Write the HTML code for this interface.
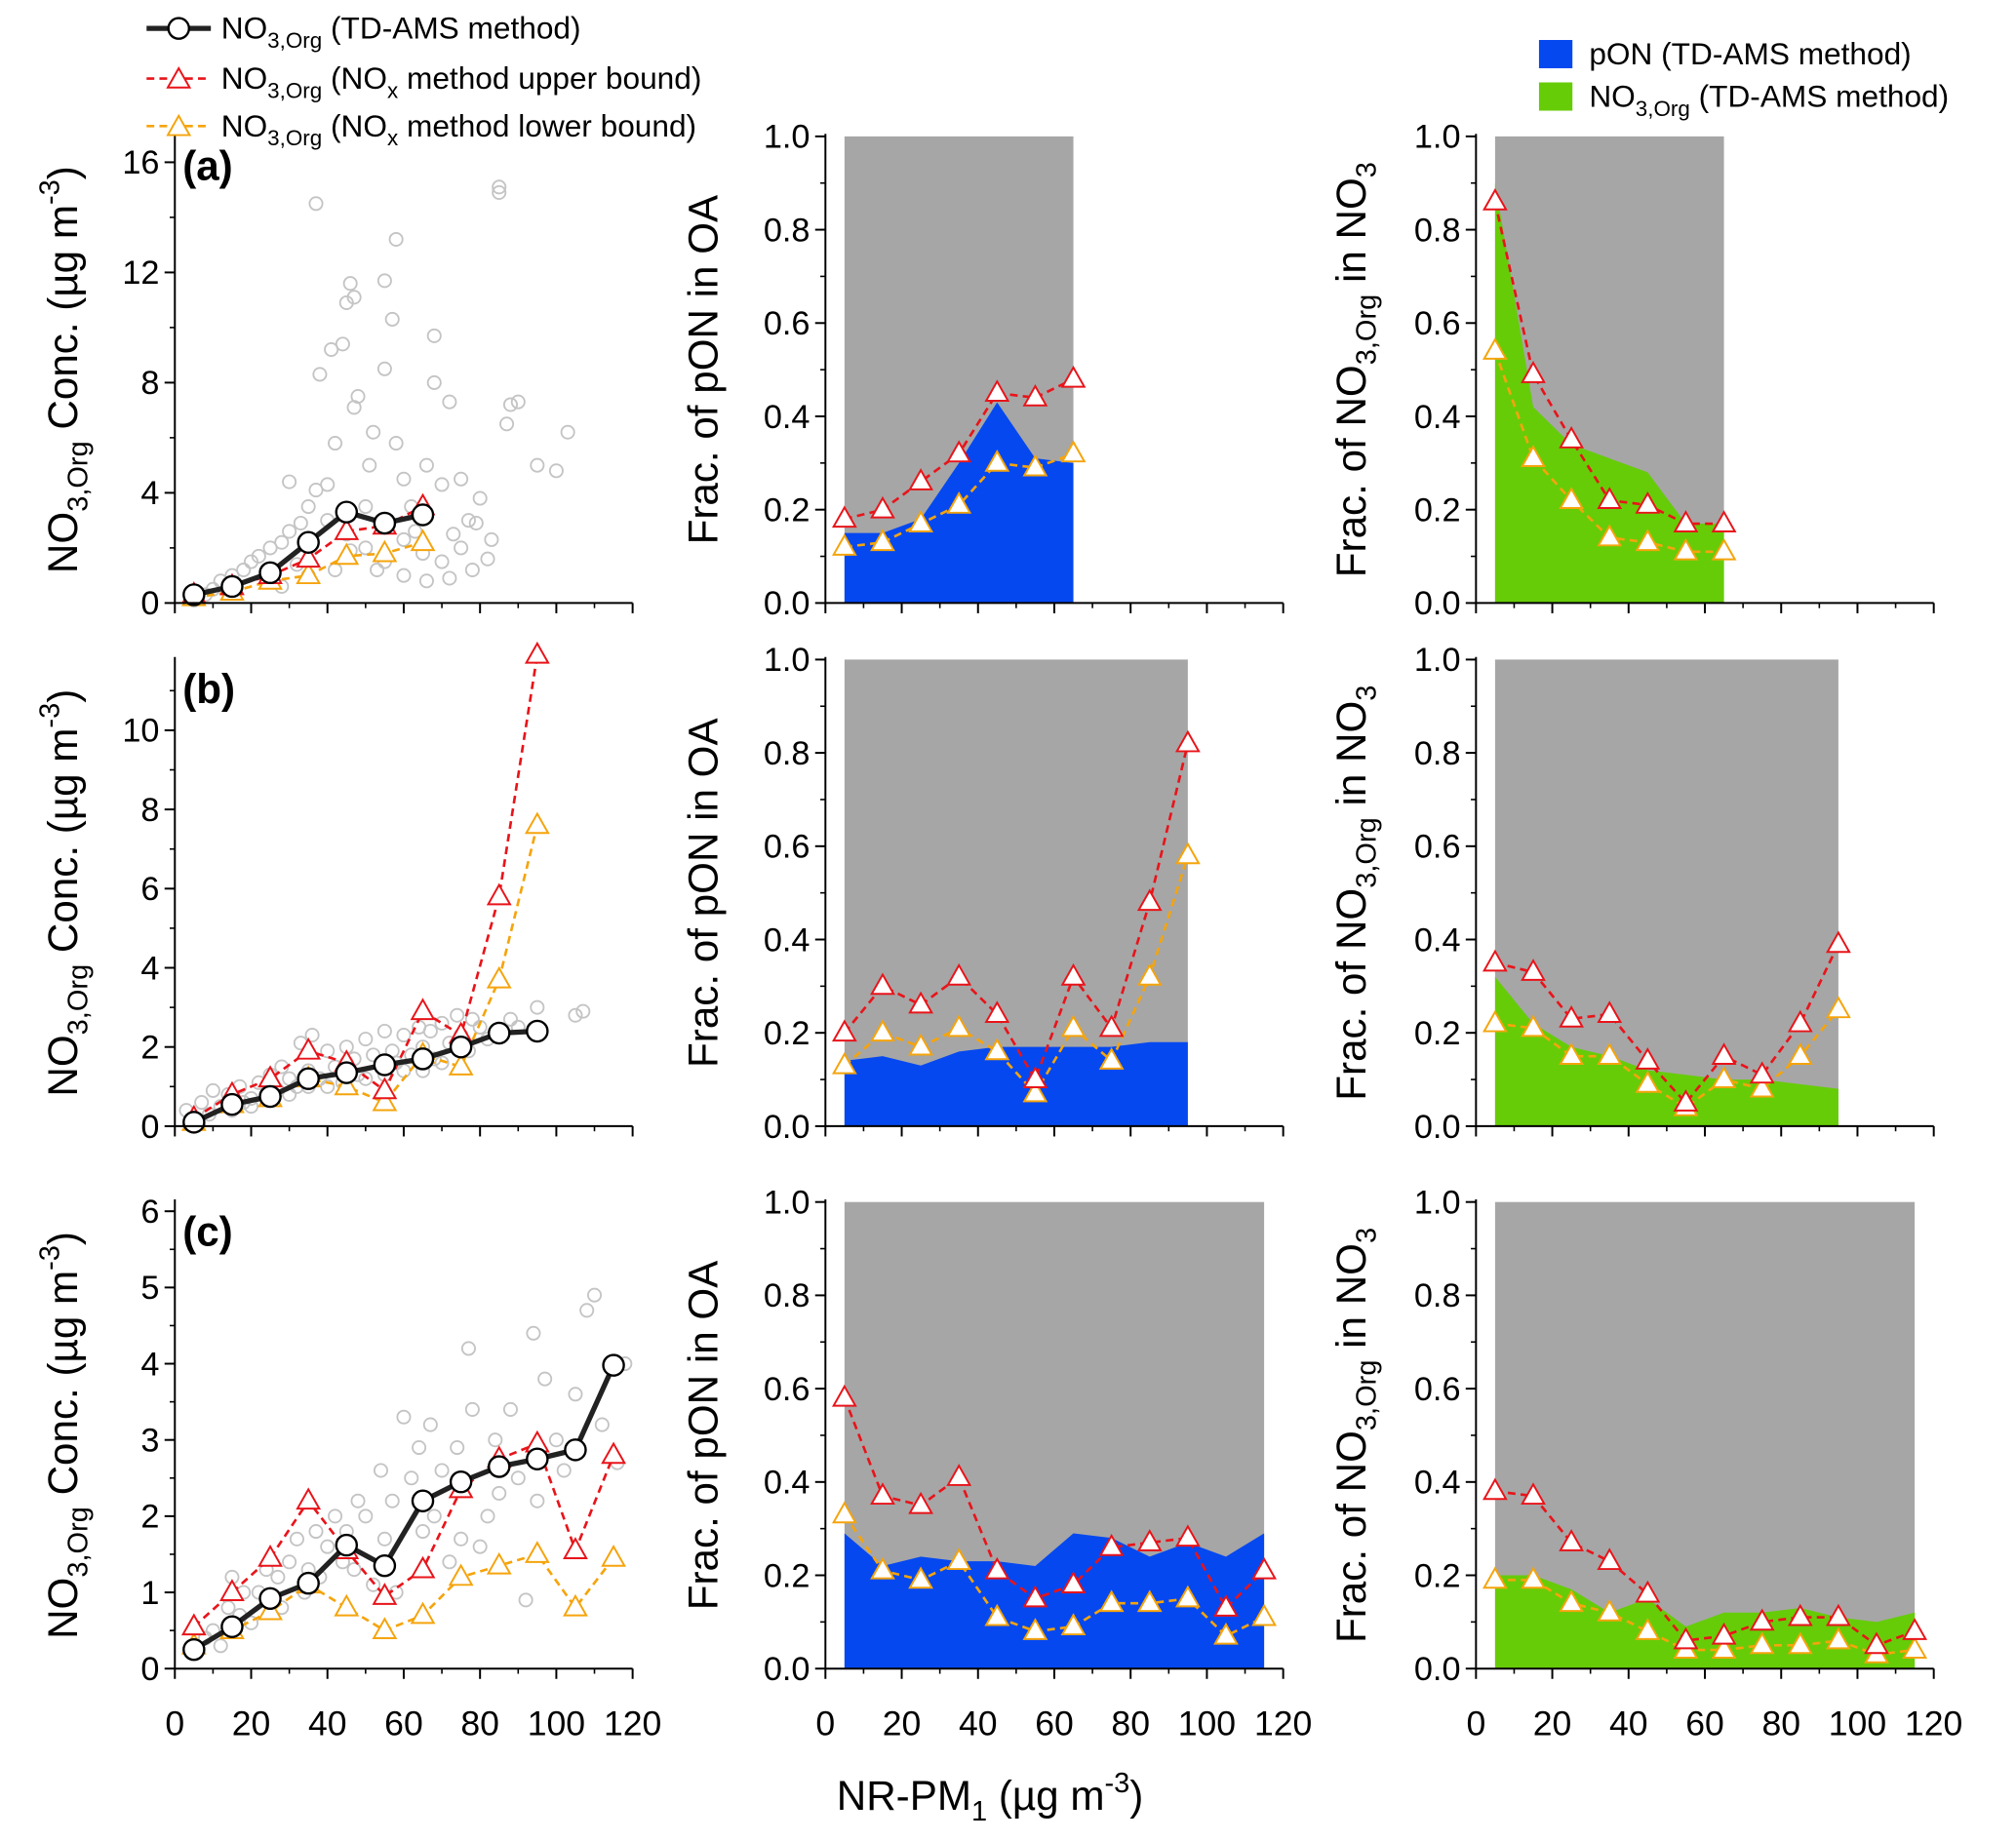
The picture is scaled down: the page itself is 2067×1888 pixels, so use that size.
<!DOCTYPE html>
<html><head><meta charset="utf-8"><style>
html,body{margin:0;padding:0;background:#fff;}
svg{display:block;font-family:"Liberation Sans",sans-serif;}
</style></head><body>
<svg id="chart" width="2067" height="1888" viewBox="0 0 1568 1432" xmlns="http://www.w3.org/2000/svg"></svg>
<script>
// ---------- data ----------
const binsA=[5,15,25,35,45,55,65];
const binsB=[5,15,25,35,45,55,65,75,85,95];
const binsC=[5,15,25,35,45,55,65,75,85,95,105,115];
const concTD_A=[0.3,0.6,1.1,2.2,3.3,2.9,3.2];
const concUp_A=[0.3,0.6,1.0,1.6,2.6,2.8,3.5];
const concLo_A=[0.2,0.4,0.8,1.0,1.7,1.8,2.2];
const concTD_B=[0.1,0.55,0.75,1.2,1.35,1.55,1.7,2.0,2.35,2.4];
const concUp_B=[0.2,0.8,1.2,1.9,1.6,0.9,2.9,2.3,5.8,11.9];
const concLo_B=[0.1,0.55,0.7,1.2,1.0,0.6,1.8,1.5,3.7,7.6];
const concTD_C=[0.25,0.55,0.92,1.12,1.62,1.35,2.2,2.45,2.65,2.75,2.87,3.98];
const concUp_C=[0.55,1.0,1.45,2.2,1.55,0.95,1.3,2.35,2.75,2.95,1.55,2.8];
const concLo_C=[0.3,0.5,0.75,1.1,0.8,0.5,0.7,1.2,1.35,1.5,0.8,1.45];
const oaUp_A=[0.18,0.20,0.26,0.32,0.45,0.44,0.48];
const oaLo_A=[0.12,0.13,0.17,0.21,0.30,0.29,0.32];
const oaPON_A=[0.15,0.15,0.18,0.30,0.43,0.31,0.30];
const oaUp_B=[0.20,0.30,0.26,0.32,0.24,0.10,0.32,0.21,0.48,0.82];
const oaLo_B=[0.13,0.20,0.17,0.21,0.16,0.07,0.21,0.14,0.32,0.58];
const oaPON_B=[0.14,0.15,0.13,0.16,0.17,0.17,0.17,0.17,0.18,0.18];
const oaUp_C=[0.58,0.37,0.35,0.41,0.21,0.15,0.18,0.26,0.27,0.28,0.13,0.21];
const oaLo_C=[0.33,0.21,0.19,0.23,0.11,0.08,0.09,0.14,0.14,0.15,0.07,0.11];
const oaPON_C=[0.29,0.22,0.24,0.23,0.23,0.22,0.29,0.28,0.24,0.27,0.24,0.29];
const no3Up_A=[0.86,0.49,0.35,0.22,0.21,0.17,0.17];
const no3Lo_A=[0.54,0.31,0.22,0.14,0.13,0.11,0.11];
const no3Org_A=[0.90,0.42,0.34,0.31,0.28,0.17,0.17];
const no3Up_B=[0.35,0.33,0.23,0.24,0.14,0.05,0.15,0.11,0.22,0.39];
const no3Lo_B=[0.22,0.21,0.15,0.15,0.09,0.04,0.10,0.08,0.15,0.25];
const no3Org_B=[0.32,0.22,0.17,0.15,0.12,0.11,0.10,0.10,0.09,0.08];
const no3Up_C=[0.38,0.37,0.27,0.23,0.16,0.06,0.07,0.10,0.11,0.11,0.05,0.08];
const no3Lo_C=[0.19,0.19,0.14,0.12,0.08,0.04,0.04,0.05,0.05,0.06,0.03,0.04];
const no3Org_C=[0.20,0.20,0.17,0.12,0.15,0.09,0.12,0.12,0.13,0.11,0.10,0.12];
const scatA_x=[37,41,45,46,47,44,55,58,57,85,85,38,68,68,72,87,88,90,103,100,95,52,55,48,47,42,30,37,40,51,58,60,66,70,75,80,77,73,62,35,30,25,20,15,10,8,12,18,22,28,33,40,45,50,55,60,65,70,75,83,82,78,72,66,42,35,28,50,55,60,5,14,24,32,46,53,63,79];
const scatA_y=[14.5,9.2,10.9,11.6,11.1,9.4,11.7,13.2,10.3,15.1,14.9,8.3,9.7,8.0,7.3,6.5,7.2,7.3,6.2,4.8,5.0,6.2,8.5,7.5,7.1,5.8,4.4,4.1,4.3,5.0,5.8,4.5,5.0,4.3,4.5,3.8,3.0,2.5,3.5,3.5,2.6,2.0,1.5,1.0,0.5,0.3,0.8,1.2,1.7,2.2,2.9,3.0,2.5,2.0,1.5,1.0,1.8,1.5,2.0,2.3,1.6,1.2,0.9,0.8,1.2,1.0,0.6,3.5,2.8,2.3,0.1,0.4,0.9,1.4,1.9,1.2,2.6,2.9];
const scatB_x=[3,5,7,9,10,12,14,15,17,18,20,22,24,25,27,28,30,32,33,35,36,38,40,42,44,45,47,48,50,52,54,55,57,58,60,62,64,65,67,68,70,72,74,75,77,78,80,82,85,88,90,95,105,107,20,30,40,50,60,70,35,45,55,65];
const scatB_y=[0.4,0.2,0.6,0.3,0.9,0.5,0.8,0.4,1.0,0.6,0.7,1.1,0.8,1.3,0.9,1.5,1.2,1.0,2.1,1.4,2.3,1.2,1.9,1.5,1.1,2.0,1.7,1.3,2.2,1.8,1.5,2.4,1.9,1.6,2.3,1.8,2.5,2.0,2.4,1.7,2.6,2.1,2.8,2.3,1.9,2.7,2.5,2.2,2.4,2.7,2.5,3.0,2.8,2.9,0.5,0.8,1.0,1.2,1.4,1.6,1.0,1.6,1.3,1.4];
const scatC_x=[5,8,10,12,14,15,17,18,20,22,24,25,27,28,30,32,34,35,37,38,40,42,44,45,47,48,50,52,54,55,57,58,60,62,64,65,67,68,70,72,74,75,77,78,80,82,84,85,88,90,92,94,95,97,100,102,105,108,110,112,114,116,118];
const scatC_y=[0.2,0.4,0.5,0.3,0.8,1.2,0.7,1.0,0.6,1.0,1.3,0.9,1.2,0.8,1.4,1.7,1.0,1.3,1.8,1.2,1.6,2.0,1.4,1.8,1.3,2.2,2.0,1.1,2.6,1.7,2.2,1.0,3.3,2.5,2.9,1.8,3.2,2.0,2.6,1.4,2.9,1.7,4.2,3.4,1.6,2.0,3.0,2.3,3.4,2.5,0.9,4.4,2.2,3.8,3.0,2.6,3.6,4.7,4.9,3.2,4.0,2.7,4.0];
const xTicks=[0,20,40,60,80,100,120];
const yTicksA=[0,4,8,12,16];
const yTicksB=[0,2,4,6,8,10];
const yTicksC=[0,1,2,3,4,5,6];
const fracTicks=[0,0.2,0.4,0.6,0.8,1.0];
const fracLabels=["0.0","0.2","0.4","0.6","0.8","1.0"];

// ---------- layout ----------
const NS="http://www.w3.org/2000/svg";
const svg=document.getElementById('chart');
const colX0=[136,642,1148], unitX=2.967;
const rowY0=[469,876,1298], rowTop=[106,513,935];
const col1Scale=[21.43,30.8,59.3];
function xs(c,v){return colX0[c]+v*unitX;}
function ys(r,c,v){return c===0? rowY0[r]-v*col1Scale[r] : rowY0[r]-v*(rowY0[r]-rowTop[r]);}
function mk(tag,attrs,parent){const e=document.createElementNS(NS,tag);for(const k in attrs)e.setAttribute(k,attrs[k]);(parent||svg).appendChild(e);return e;}
function text(x,y,str,size,anchor,parent,extra){const t=mk('text',Object.assign({x:x,y:y,'font-size':size,'text-anchor':anchor||'middle',fill:'#000'},extra||{}),parent);t.innerHTML=str;return t;}

function drawAxes(r,c,yTicks,yLabels,minorStep,yMax){
  const g=mk('g',{});
  
  
  const x0=colX0[c], y0=rowY0[r], top=rowTop[r], xEnd=xs(c,120);
  mk('line',{x1:x0,y1:top-2,x2:x0,y2:y0,stroke:'#000','stroke-width':1.5},g);
  mk('line',{x1:x0,y1:y0,x2:xEnd,y2:y0,stroke:'#000','stroke-width':1.5},g);
  yTicks.forEach((v,i)=>{const y=ys(r,c,v);mk('line',{x1:x0-8,y1:y,x2:x0,y2:y,stroke:'#000','stroke-width':1.5},g);
    text(x0-12,y+9,yLabels[i],26,'end',g);});
  for(let v=0;v<=yMax+1e-9;v+=minorStep){const y=ys(r,c,v);mk('line',{x1:x0-4,y1:y,x2:x0,y2:y,stroke:'#000','stroke-width':1.2},g);}
  xTicks.forEach(v=>{const x=xs(c,v);mk('line',{x1:x,y1:y0,x2:x,y2:y0+8,stroke:'#000','stroke-width':1.5},g);
    if(r===2) text(x,y0+52,String(v),27,'middle',g);});
  for(let v=10;v<=120;v+=20){const x=xs(c,v);mk('line',{x1:x,y1:y0,x2:x,y2:y0+4,stroke:'#000','stroke-width':1.2},g);}
}
function tri(x,y,color,g){return mk('path',{d:`M${x},${y-9} L${x+8.5},${y+6} L${x-8.5},${y+6} Z`,fill:'#fff',stroke:color,'stroke-width':1.5},g);}
function series(r,c,bins,vals,color,marker,name){
  const g=mk('g',{});
  
  
  const pts=bins.map((b,i)=>xs(c,b)+','+ys(r,c,vals[i])).join(' ');
  if(marker==='circle') mk('polyline',{points:pts,fill:'none',stroke:'#222','stroke-width':4},g);
  else mk('polyline',{points:pts,fill:'none',stroke:color,'stroke-width':2,'stroke-dasharray':'6,4'},g);
  bins.forEach((b,i)=>{const x=xs(c,b),y=ys(r,c,vals[i]);
    if(marker==='circle') mk('circle',{cx:x,cy:y,r:8,fill:'#fff',stroke:'#000','stroke-width':1.8},g);
    else tri(x,y,color,g);});
}
function area(r,c,bins,vals,color,name){
  const g=mk('g',{});
  
  
  const xa=xs(c,bins[0]), xb=xs(c,bins[bins.length-1]);
  mk('rect',{x:xa,y:ys(r,c,1),width:xb-xa,height:ys(r,c,0)-ys(r,c,1),fill:'#a6a6a6'},g);
  let pts=xa+','+ys(r,c,0)+' ';
  pts+=bins.map((b,i)=>xs(c,b)+','+ys(r,c,vals[i])).join(' ');
  pts+=' '+xb+','+ys(r,c,0);
  mk('polygon',{points:pts,fill:color},g);
}
function scatter(r,xsArr,ysArr,name){
  const g=mk('g',{});
  
  
  xsArr.forEach((x,i)=>mk('circle',{cx:xs(0,x),cy:ys(r,0,ysArr[i]),r:5,fill:'none',stroke:'#c4c4c4','stroke-width':1.4},g));
}

const rows=[
 {bins:binsA,td:concTD_A,up:concUp_A,lo:concLo_A,oU:oaUp_A,oL:oaLo_A,oP:oaPON_A,nU:no3Up_A,nL:no3Lo_A,nO:no3Org_A,sx:scatA_x,sy:scatA_y,yt:yTicksA,mn:2,ym:16,lab:'(a)'},
 {bins:binsB,td:concTD_B,up:concUp_B,lo:concLo_B,oU:oaUp_B,oL:oaLo_B,oP:oaPON_B,nU:no3Up_B,nL:no3Lo_B,nO:no3Org_B,sx:scatB_x,sy:scatB_y,yt:yTicksB,mn:1,ym:11,lab:'(b)'},
 {bins:binsC,td:concTD_C,up:concUp_C,lo:concLo_C,oU:oaUp_C,oL:oaLo_C,oP:oaPON_C,nU:no3Up_C,nL:no3Lo_C,nO:no3Org_C,sx:scatC_x,sy:scatC_y,yt:yTicksC,mn:0.5,ym:6,lab:'(c)'}
];
rows.forEach((d,r)=>{
  scatter(r,d.sx,d.sy,'scatter-points-r'+r);
  series(r,0,d.bins,d.lo,'#f5a40c','tri','lower-bound-conc-r'+r);
  series(r,0,d.bins,d.up,'#e8141a','tri','upper-bound-conc-r'+r);
  series(r,0,d.bins,d.td,'#000','circle','td-ams-conc-r'+r);
  drawAxes(r,0,d.yt,d.yt.map(String),d.mn,d.ym);
  const pl=text(142,rowTop[r]+34,d.lab,32,'start',null,{'font-weight':'bold'});
  
  
  area(r,1,d.bins,d.oP,'#0548f0','pon-area-r'+r);
  series(r,1,d.bins,d.oL,'#f5a40c','tri','lower-bound-oa-r'+r);
  series(r,1,d.bins,d.oU,'#e8141a','tri','upper-bound-oa-r'+r);
  drawAxes(r,1,fracTicks,fracLabels,0.1,1.0);
  area(r,2,d.bins,d.nO,'#66cc08','no3org-area-r'+r);
  series(r,2,d.bins,d.nL,'#f5a40c','tri','lower-bound-no3-r'+r);
  series(r,2,d.bins,d.nU,'#e8141a','tri','upper-bound-no3-r'+r);
  drawAxes(r,2,fracTicks,fracLabels,0.1,1.0);
  const cy=(rowTop[r]+rowY0[r])/2;
  let t=text(60,cy,'NO<tspan font-size="22" dy="8">3,Org</tspan><tspan dy="-8"> Conc. (µg m</tspan><tspan font-size="22" dy="-14">-3</tspan><tspan dy="14">)</tspan>',32,'middle',null,{transform:`rotate(-90 60 ${cy})`});
  
  t=text(558,cy,'Frac. of pON in OA',32,'middle',null,{transform:`rotate(-90 558 ${cy})`});
  
  t=text(1062,cy,'Frac. of NO<tspan font-size="22" dy="8">3,Org</tspan><tspan dy="-8"> in NO</tspan><tspan font-size="22" dy="8">3</tspan>',32,'middle',null,{transform:`rotate(-90 1062 ${cy})`});
  
});
let xt=text(770,1408,'NR-PM<tspan font-size="22" dy="8">1</tspan><tspan dy="-8"> (µg m</tspan><tspan font-size="22" dy="-14">-3</tspan><tspan dy="14">)</tspan>',32,'middle');


const lg=mk('g',{});


mk('line',{x1:114,y1:22,x2:164,y2:22,stroke:'#222','stroke-width':4},lg);
mk('circle',{cx:139,cy:22,r:8,fill:'#fff',stroke:'#000','stroke-width':1.8},lg);
text(172,30,'NO<tspan font-size="17" dy="7">3,Org</tspan><tspan dy="-7"> (TD-AMS method)</tspan>',24,'start',lg);
mk('line',{x1:114,y1:61,x2:164,y2:61,stroke:'#e8141a','stroke-width':2,'stroke-dasharray':'6,4'},lg);
tri(139,62,'#e8141a',lg);
text(172,69,'NO<tspan font-size="17" dy="7">3,Org</tspan><tspan dy="-7"> (NO</tspan><tspan font-size="17" dy="7">x</tspan><tspan dy="-7"> method upper bound)</tspan>',24,'start',lg);
mk('line',{x1:114,y1:98,x2:164,y2:98,stroke:'#f5a40c','stroke-width':2,'stroke-dasharray':'6,4'},lg);
tri(139,99,'#f5a40c',lg);
text(172,106,'NO<tspan font-size="17" dy="7">3,Org</tspan><tspan dy="-7"> (NO</tspan><tspan font-size="17" dy="7">x</tspan><tspan dy="-7"> method lower bound)</tspan>',24,'start',lg);
const lr=mk('g',{});


mk('rect',{x:1197,y:31,width:26,height:22,fill:'#0548f0'},lr);
text(1236,50,'pON (TD-AMS method)',24,'start',lr);
mk('rect',{x:1197,y:64,width:26,height:22,fill:'#66cc08'},lr);
text(1236,83,'NO<tspan font-size="17" dy="7">3,Org</tspan><tspan dy="-7"> (TD-AMS method)</tspan>',24,'start',lr);
</script>
</body></html>
